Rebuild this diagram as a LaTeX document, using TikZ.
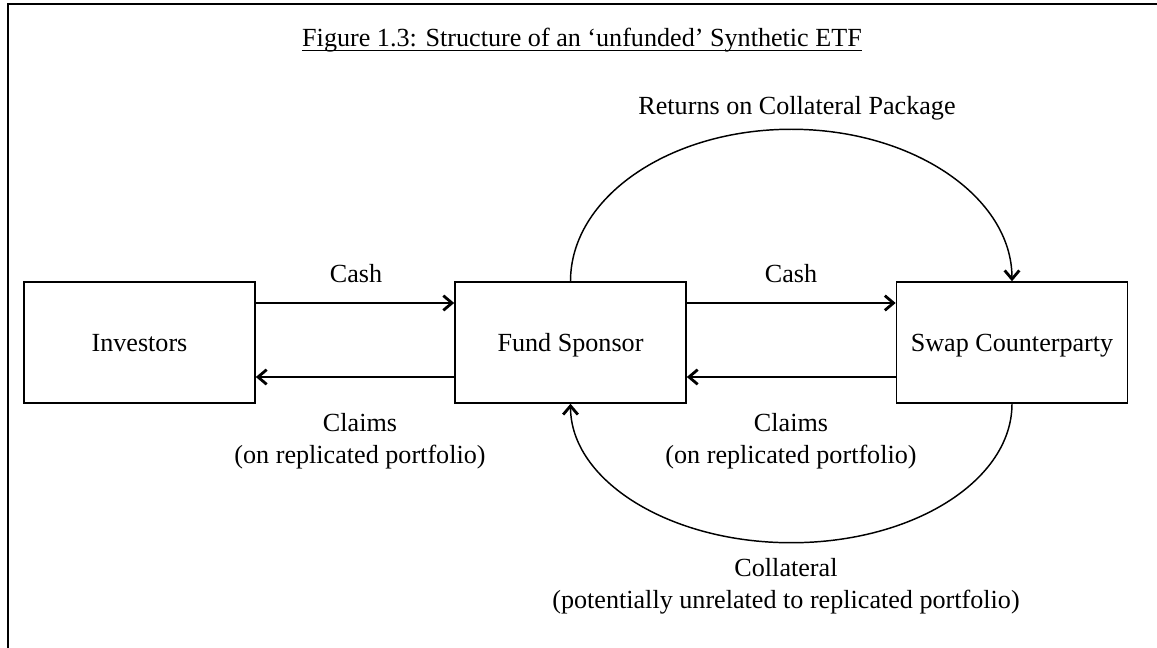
\documentclass[tikz,border=0pt]{standalone}
\usepackage{fontspec}
\setmainfont{Liberation Serif}
\usetikzlibrary{arrows.meta}
\begin{document}
\begin{tikzpicture}[x=0.75pt,y=-0.75pt,
  every node/.style={inner sep=0pt},
  txt/.style={font=\fontsize{19.6pt}{24pt}\selectfont},
  box/.style={txt, draw, line width=1.1pt, minimum width=173.4pt, minimum height=90.75pt, text height=13.4pt, text depth=0pt},
  lbl/.style={txt, align=center},
  arr/.style={line width=1.1pt, -{Straight Barb[length=6.5pt,width=11pt,line width=2.1pt]}},
  frame/.style={line width=1.5pt}]
\useasboundingbox (0,0) rectangle (1157,648);
% outer frame (only top and left edges visible)
\coordinate (fbl) at (7.5,660);
\coordinate (ftl) at (7.5,4.5);
\coordinate (ftr) at (1170,4.5);
\draw[frame] (fbl) -- (ftl) -- (ftr);
% title
\node[txt, anchor=base] (title) at (582,47) {Figure 1.3: Structure of an ‘unfunded’ Synthetic ETF};
\draw[line width=1pt] ([yshift=-2.4pt]title.base west) -- ([yshift=-2.4pt]title.base east);
% boxes
\node[box] (inv) at (139.5,342.5) {Investors};
\node[box] (fs) at (570.5,342.5) {Fund Sponsor};
\node[box] (sc) at (1012,342.5) {Swap Counterparty};
% horizontal arrows
\coordinate (ya) at (0,303);
\coordinate (yb) at (0,377);
\draw[arr] (inv.east |- ya) -- (fs.west |- ya);
\draw[arr] (fs.east |- ya) -- (sc.west |- ya);
\draw[arr] (fs.west |- yb) -- (inv.east |- yb);
\draw[arr] (sc.west |- yb) -- (fs.east |- yb);
% arcs
\draw[arr] (fs.north) arc[start angle=180, end angle=0, x radius=165.56pt, y radius=114pt];
\draw[arr] (sc.south) arc[start angle=0, end angle=-180, x radius=165.56pt, y radius=104.25pt];
% labels
\node[txt, anchor=base] (cash1) at (356,283) {Cash};
\node[txt, anchor=base] (cash2) at (791,283) {Cash};
\node[txt, anchor=base] (ret) at (797,115) {Returns on Collateral Package};
\node[lbl] (cl1) at (360,441) {Claims\\(on replicated portfolio)};
\node[lbl] (cl2) at (791,441) {Claims\\(on replicated portfolio)};
\node[lbl] (coll) at (786,586) {Collateral\\(potentially unrelated to replicated portfolio)};
\end{tikzpicture}
\end{document}
